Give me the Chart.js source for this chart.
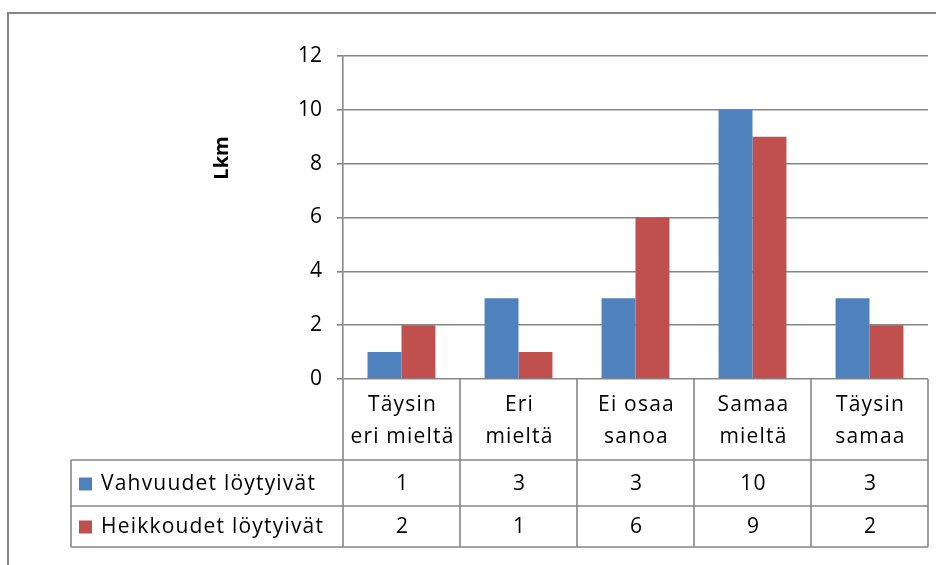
<!DOCTYPE html>
<html>
<head>
<meta charset="utf-8">
<script src="https://cdn.jsdelivr.net/npm/chart.js@4"></script>
<style>
  html, body { margin: 0; padding: 0; background: #fff; }
  #wrap { width: 936px; height: 565px; position: relative; }
</style>
</head>
<body>
<div id="wrap"><canvas id="myChart"></canvas></div>
<script>
// data
const kategoriat = [['Täysin', 'eri mieltä'], ['Eri', 'mieltä'], ['Ei osaa', 'sanoa'], ['Samaa', 'mieltä'], ['Täysin', 'samaa']];
const vahvuudet = [1, 3, 3, 10, 3];
const heikkoudet = [2, 1, 6, 9, 2];
const sarjaNimet = ['Vahvuudet löytyivät', 'Heikkoudet löytyivät'];
const yTicks = [0, 2, 4, 6, 8, 10, 12];

const sininen = '#4F81BD';
const punainen = '#C0504D';
const harmaa = '#878787';
const fontti = '"Open Sans", "Liberation Sans", sans-serif';

// table and frame drawn under the plot
const taulukko = {
  id: 'taulukko',
  afterDraw(chart) {
    const c = chart.ctx;
    const x = chart.scales.x;
    const area = chart.chartArea;
    const n = kategoriat.length;
    const leveys = (area.right - area.left) / n;
    const tLeft = 71, hTop = area.bottom, hBottom = 460, r1 = 506, r2 = 547;

    c.save();
    // outer frame
    c.strokeStyle = '#868686';
    c.lineWidth = 2;
    c.strokeRect(8, 13, 940, 570);

    c.strokeStyle = harmaa;
    c.lineWidth = 1.6;
    c.beginPath();
    [hBottom, r1, r2].forEach(function(y) {
      c.moveTo(tLeft, y); c.lineTo(area.right, y);
    });
    c.moveTo(tLeft, hBottom); c.lineTo(tLeft, r2);
    c.moveTo(area.left, hTop); c.lineTo(area.left, r2);
    for (let i = 0; i < n; i++) {
      const xr = x.getPixelForValue(i) + leveys / 2;
      c.moveTo(xr, hTop); c.lineTo(xr, r2);
    }
    c.stroke();

    c.fillStyle = '#000';
    c.font = '21px ' + fontti;
    c.letterSpacing = '1.2px';
    c.textAlign = 'center';
    c.textBaseline = 'middle';
    for (let i = 0; i < n; i++) {
      const cx = x.getPixelForValue(i) + 1;
      c.fillText(kategoriat[i][0], cx, 405);
      c.fillText(kategoriat[i][1], cx, 437);
      c.fillText(String(chart.data.datasets[0].data[i]), cx, 484);
      c.fillText(String(chart.data.datasets[1].data[i]), cx, 527);
    }

    // legend keys
    const rivit = [484, 527];
    chart.data.datasets.forEach(function(ds, k) {
      c.fillStyle = ds.backgroundColor;
      c.fillRect(79, rivit[k] - 6.5, 13, 13);
      c.fillStyle = '#000';
      c.textAlign = 'left';
      c.fillText(ds.label, 101, rivit[k]);
    });

    // axis title
    c.save();
    c.translate(222, 158);
    c.rotate(-Math.PI / 2);
    c.font = 'bold 20px ' + fontti;
    c.letterSpacing = '0px';
    c.textAlign = 'center';
    c.fillText('Lkm', 0, 0);
    c.restore();

    c.restore();
  }
};

document.addEventListener('DOMContentLoaded', function() {
  const ctx = document.getElementById('myChart');
  if (ctx) {
    new Chart(ctx, {
      type: 'bar',
      data: {
        labels: kategoriat.map(function(k) { return k.join(' '); }),
        datasets: [
          { label: sarjaNimet[0], data: vahvuudet, backgroundColor: sininen },
          { label: sarjaNimet[1], data: heikkoudet, backgroundColor: punainen }
        ]
      },
      options: {
        responsive: true,
        maintainAspectRatio: false,
        animation: false,
        categoryPercentage: 0.58,
        barPercentage: 1.0,
        layout: { padding: { left: 0, top: 56, right: 8, bottom: 186 } },
        scales: {
          x: { display: false },
          y: {
            min: 0,
            max: 12,
            afterFit: function(s) { s.width = 343; },
            afterBuildTicks: function(s) { s.ticks = yTicks.map(function(v) { return { value: v }; }); },
            ticks: { color: '#000', padding: 15, font: { family: fontti, size: 21 } },
            grid: { color: harmaa, lineWidth: 1.6, tickLength: 6 },
            border: { color: harmaa, width: 1.6 }
          }
        },
        plugins: {
          legend: { display: false },
          tooltip: { enabled: false }
        }
      },
      plugins: [taulukko]
    });
  }
});
</script>
</body>
</html>
